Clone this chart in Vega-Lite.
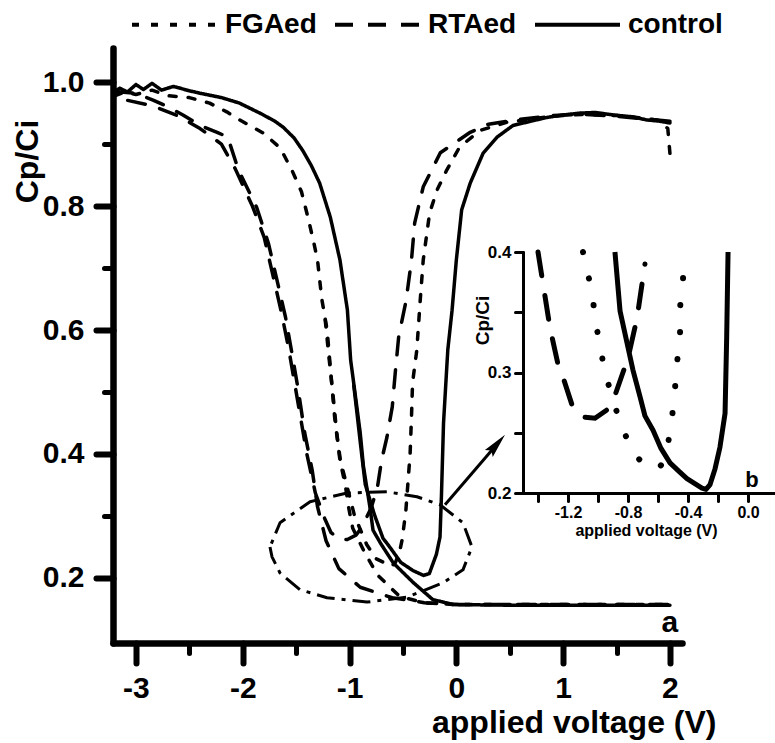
{
  "$schema": "https://vega.github.io/schema/vega-lite/v6.json",
  "width": 569,
  "height": 595,
  "autosize": {"type": "none"},
  "padding": {"left": 113, "top": 48, "right": 93, "bottom": 100},
  "background": "white",
  "config": {
    "font": "Liberation Sans",
    "view": {"stroke": null},
    "axis": {"grid": false, "domainColor": "black", "tickColor": "black", "labelColor": "black", "titleColor": "black", "labelFontWeight": "bold", "titleFontWeight": "bold", "tickCap": "round", "domainCap": "round"},
    "text": {"font": "Liberation Sans"}
  },
  "datasets": {
    "main": [
      {"s":"control","w":"d","V":-3.2,"C":0.985},{"s":"control","w":"d","V":-3.15,"C":0.99},{"s":"control","w":"d","V":-3.08,"C":0.984},{"s":"control","w":"d","V":-3.0,"C":0.996},{"s":"control","w":"d","V":-2.93,"C":0.988},{"s":"control","w":"d","V":-2.85,"C":0.998},{"s":"control","w":"d","V":-2.76,"C":0.987},{"s":"control","w":"d","V":-2.65,"C":0.993},{"s":"control","w":"d","V":-2.5,"C":0.986},{"s":"control","w":"d","V":-2.4,"C":0.982},{"s":"control","w":"d","V":-2.2,"C":0.975},{"s":"control","w":"d","V":-2.03,"C":0.966},{"s":"control","w":"d","V":-1.84,"C":0.95},{"s":"control","w":"d","V":-1.7,"C":0.937},{"s":"control","w":"d","V":-1.62,"C":0.927},{"s":"control","w":"d","V":-1.52,"C":0.91},{"s":"control","w":"d","V":-1.44,"C":0.89},{"s":"control","w":"d","V":-1.36,"C":0.866},{"s":"control","w":"d","V":-1.28,"C":0.837},{"s":"control","w":"d","V":-1.18,"C":0.782},{"s":"control","w":"d","V":-1.09,"C":0.713},{"s":"control","w":"d","V":-1.02,"C":0.632},{"s":"control","w":"d","V":-0.99,"C":0.552},{"s":"control","w":"d","V":-0.95,"C":0.5},{"s":"control","w":"d","V":-0.9,"C":0.434},{"s":"control","w":"d","V":-0.87,"C":0.38},{"s":"control","w":"d","V":-0.81,"C":0.315},{"s":"control","w":"d","V":-0.78,"C":0.277},{"s":"control","w":"d","V":-0.71,"C":0.256},{"s":"control","w":"d","V":-0.59,"C":0.224},{"s":"control","w":"d","V":-0.4,"C":0.192},{"s":"control","w":"d","V":-0.22,"C":0.165},{"s":"control","w":"d","V":-0.03,"C":0.157},{"s":"control","w":"d","V":0.5,"C":0.156},{"s":"control","w":"d","V":1.0,"C":0.156},{"s":"control","w":"d","V":1.5,"C":0.156},{"s":"control","w":"d","V":2.0,"C":0.156},
      {"s":"control","w":"u","V":2.0,"C":0.934},{"s":"control","w":"u","V":1.9,"C":0.937},{"s":"control","w":"u","V":1.78,"C":0.939},{"s":"control","w":"u","V":1.65,"C":0.944},{"s":"control","w":"u","V":1.47,"C":0.947},{"s":"control","w":"u","V":1.3,"C":0.951},{"s":"control","w":"u","V":1.16,"C":0.95},{"s":"control","w":"u","V":1.0,"C":0.947},{"s":"control","w":"u","V":0.85,"C":0.943},{"s":"control","w":"u","V":0.7,"C":0.937},{"s":"control","w":"u","V":0.53,"C":0.93},{"s":"control","w":"u","V":0.38,"C":0.911},{"s":"control","w":"u","V":0.25,"C":0.885},{"s":"control","w":"u","V":0.13,"C":0.837},{"s":"control","w":"u","V":0.05,"C":0.794},{"s":"control","w":"u","V":0.0,"C":0.713},{"s":"control","w":"u","V":-0.04,"C":0.632},{"s":"control","w":"u","V":-0.08,"C":0.568},{"s":"control","w":"u","V":-0.12,"C":0.45},{"s":"control","w":"u","V":-0.14,"C":0.33},{"s":"control","w":"u","V":-0.153,"C":0.266},{"s":"control","w":"u","V":-0.187,"C":0.238},{"s":"control","w":"u","V":-0.253,"C":0.207},{"s":"control","w":"u","V":-0.307,"C":0.204},{"s":"control","w":"u","V":-0.407,"C":0.212},{"s":"control","w":"u","V":-0.52,"C":0.225},{"s":"control","w":"u","V":-0.633,"C":0.252},{"s":"control","w":"u","V":-0.687,"C":0.264},{"s":"control","w":"u","V":-0.767,"C":0.302},{"s":"control","w":"u","V":-0.853,"C":0.351},{"s":"control","w":"u","V":-0.887,"C":0.4},{"s":"control","w":"u","V":-0.92,"C":0.45},{"s":"control","w":"u","V":-0.96,"C":0.51},
      {"s":"FGAed","w":"d","V":-3.2,"C":0.978},{"s":"FGAed","w":"d","V":-3.1,"C":0.984},{"s":"FGAed","w":"d","V":-3.0,"C":0.98},{"s":"FGAed","w":"d","V":-2.85,"C":0.987},{"s":"FGAed","w":"d","V":-2.7,"C":0.978},{"s":"FGAed","w":"d","V":-2.5,"C":0.975},{"s":"FGAed","w":"d","V":-2.31,"C":0.966},{"s":"FGAed","w":"d","V":-2.15,"C":0.952},{"s":"FGAed","w":"d","V":-2.03,"C":0.939},{"s":"FGAed","w":"d","V":-1.81,"C":0.918},{"s":"FGAed","w":"d","V":-1.65,"C":0.894},{"s":"FGAed","w":"d","V":-1.54,"C":0.858},{"s":"FGAed","w":"d","V":-1.45,"C":0.823},{"s":"FGAed","w":"d","V":-1.39,"C":0.782},{"s":"FGAed","w":"d","V":-1.34,"C":0.745},{"s":"FGAed","w":"d","V":-1.3,"C":0.713},{"s":"FGAed","w":"d","V":-1.26,"C":0.65},{"s":"FGAed","w":"d","V":-1.21,"C":0.6},{"s":"FGAed","w":"d","V":-1.18,"C":0.54},{"s":"FGAed","w":"d","V":-1.14,"C":0.46},{"s":"FGAed","w":"d","V":-1.09,"C":0.39},{"s":"FGAed","w":"d","V":-1.04,"C":0.35},{"s":"FGAed","w":"d","V":-1.01,"C":0.315},{"s":"FGAed","w":"d","V":-0.97,"C":0.28},{"s":"FGAed","w":"d","V":-0.87,"C":0.245},{"s":"FGAed","w":"d","V":-0.74,"C":0.205},{"s":"FGAed","w":"d","V":-0.53,"C":0.17},{"s":"FGAed","w":"d","V":-0.3,"C":0.16},{"s":"FGAed","w":"d","V":0.0,"C":0.157},{"s":"FGAed","w":"d","V":1.0,"C":0.157},{"s":"FGAed","w":"d","V":2.0,"C":0.157},
      {"s":"FGAed","w":"u","V":2.0,"C":0.885},{"s":"FGAed","w":"u","V":1.98,"C":0.925},{"s":"FGAed","w":"u","V":1.9,"C":0.938},{"s":"FGAed","w":"u","V":1.75,"C":0.942},{"s":"FGAed","w":"u","V":1.5,"C":0.946},{"s":"FGAed","w":"u","V":1.2,"C":0.948},{"s":"FGAed","w":"u","V":0.9,"C":0.945},{"s":"FGAed","w":"u","V":0.6,"C":0.938},{"s":"FGAed","w":"u","V":0.47,"C":0.935},{"s":"FGAed","w":"u","V":0.22,"C":0.922},{"s":"FGAed","w":"u","V":0.03,"C":0.895},{"s":"FGAed","w":"u","V":-0.09,"C":0.858},{"s":"FGAed","w":"u","V":-0.18,"C":0.826},{"s":"FGAed","w":"u","V":-0.25,"C":0.789},{"s":"FGAed","w":"u","V":-0.31,"C":0.713},{"s":"FGAed","w":"u","V":-0.34,"C":0.644},{"s":"FGAed","w":"u","V":-0.37,"C":0.568},{"s":"FGAed","w":"u","V":-0.41,"C":0.515},{"s":"FGAed","w":"u","V":-0.42,"C":0.46},{"s":"FGAed","w":"u","V":-0.433,"C":0.4},{"s":"FGAed","w":"u","V":-0.453,"C":0.354},{"s":"FGAed","w":"u","V":-0.473,"C":0.308},{"s":"FGAed","w":"u","V":-0.507,"C":0.262},{"s":"FGAed","w":"u","V":-0.533,"C":0.241},{"s":"FGAed","w":"u","V":-0.57,"C":0.225},{"s":"FGAed","w":"u","V":-0.607,"C":0.219},{"s":"FGAed","w":"u","V":-0.753,"C":0.231},{"s":"FGAed","w":"u","V":-0.84,"C":0.254},{"s":"FGAed","w":"u","V":-0.953,"C":0.3},{"s":"FGAed","w":"u","V":-1.02,"C":0.345},{"s":"FGAed","w":"u","V":-1.087,"C":0.391},{"s":"FGAed","w":"u","V":-1.12,"C":0.434},{"s":"FGAed","w":"u","V":-1.15,"C":0.487},{"s":"FGAed","w":"u","V":-1.2,"C":0.568},{"s":"FGAed","w":"u","V":-1.23,"C":0.62},
      {"s":"RTAed","w":"d","V":-3.2,"C":0.985},{"s":"RTAed","w":"d","V":-3.0,"C":0.982},{"s":"RTAed","w":"d","V":-2.84,"C":0.971},{"s":"RTAed","w":"d","V":-2.7,"C":0.96},{"s":"RTAed","w":"d","V":-2.56,"C":0.947},{"s":"RTAed","w":"d","V":-2.4,"C":0.93},{"s":"RTAed","w":"d","V":-2.24,"C":0.919},{"s":"RTAed","w":"d","V":-2.14,"C":0.911},{"s":"RTAed","w":"d","V":-2.04,"C":0.858},{"s":"RTAed","w":"d","V":-1.87,"C":0.798},{"s":"RTAed","w":"d","V":-1.76,"C":0.74},{"s":"RTAed","w":"d","V":-1.68,"C":0.681},{"s":"RTAed","w":"d","V":-1.6,"C":0.621},{"s":"RTAed","w":"d","V":-1.54,"C":0.563},{"s":"RTAed","w":"d","V":-1.48,"C":0.503},{"s":"RTAed","w":"d","V":-1.42,"C":0.434},{"s":"RTAed","w":"d","V":-1.35,"C":0.374},{"s":"RTAed","w":"d","V":-1.3,"C":0.315},{"s":"RTAed","w":"d","V":-1.22,"C":0.26},{"s":"RTAed","w":"d","V":-1.1,"C":0.215},{"s":"RTAed","w":"d","V":-0.9,"C":0.185},{"s":"RTAed","w":"d","V":-0.6,"C":0.168},{"s":"RTAed","w":"d","V":-0.3,"C":0.16},{"s":"RTAed","w":"d","V":0.0,"C":0.157},{"s":"RTAed","w":"d","V":1.0,"C":0.157},{"s":"RTAed","w":"d","V":2.0,"C":0.157},
      {"s":"RTAed","w":"u","V":2.0,"C":0.937},{"s":"RTAed","w":"u","V":1.8,"C":0.94},{"s":"RTAed","w":"u","V":1.5,"C":0.945},{"s":"RTAed","w":"u","V":1.2,"C":0.948},{"s":"RTAed","w":"u","V":0.9,"C":0.946},{"s":"RTAed","w":"u","V":0.6,"C":0.94},{"s":"RTAed","w":"u","V":0.3,"C":0.932},{"s":"RTAed","w":"u","V":0.13,"C":0.919},{"s":"RTAed","w":"u","V":-0.15,"C":0.886},{"s":"RTAed","w":"u","V":-0.31,"C":0.831},{"s":"RTAed","w":"u","V":-0.39,"C":0.773},{"s":"RTAed","w":"u","V":-0.42,"C":0.713},{"s":"RTAed","w":"u","V":-0.47,"C":0.648},{"s":"RTAed","w":"u","V":-0.54,"C":0.589},{"s":"RTAed","w":"u","V":-0.57,"C":0.535},{"s":"RTAed","w":"u","V":-0.6,"C":0.476},{"s":"RTAed","w":"u","V":-0.65,"C":0.427},{"s":"RTAed","w":"u","V":-0.7,"C":0.39},{"s":"RTAed","w":"u","V":-0.74,"C":0.345},{"s":"RTAed","w":"u","V":-0.8,"C":0.312},{"s":"RTAed","w":"u","V":-0.887,"C":0.281},{"s":"RTAed","w":"u","V":-0.94,"C":0.269},{"s":"RTAed","w":"u","V":-1.02,"C":0.262},{"s":"RTAed","w":"u","V":-1.1,"C":0.263},{"s":"RTAed","w":"u","V":-1.173,"C":0.273},{"s":"RTAed","w":"u","V":-1.233,"C":0.296},{"s":"RTAed","w":"u","V":-1.32,"C":0.337},{"s":"RTAed","w":"u","V":-1.367,"C":0.374},{"s":"RTAed","w":"u","V":-1.4,"C":0.4},{"s":"RTAed","w":"u","V":-1.45,"C":0.45},{"s":"RTAed","w":"u","V":-1.51,"C":0.51},{"s":"RTAed","w":"u","V":-1.57,"C":0.57},{"s":"RTAed","w":"u","V":-1.64,"C":0.63},{"s":"RTAed","w":"u","V":-1.72,"C":0.69},{"s":"RTAed","w":"u","V":-1.8,"C":0.75},{"s":"RTAed","w":"u","V":-1.91,"C":0.8},{"s":"RTAed","w":"u","V":-2.07,"C":0.86},{"s":"RTAed","w":"u","V":-2.2,"C":0.9},{"s":"RTAed","w":"u","V":-2.4,"C":0.925},{"s":"RTAed","w":"u","V":-2.6,"C":0.945},{"s":"RTAed","w":"u","V":-2.85,"C":0.962},{"s":"RTAed","w":"u","V":-3.2,"C":0.975}
    ],
    "inset": [
      {"s":"control","V":-0.887,"C":0.4},{"s":"control","V":-0.853,"C":0.351},{"s":"control","V":-0.767,"C":0.302},{"s":"control","V":-0.72,"C":0.28},{"s":"control","V":-0.687,"C":0.264},{"s":"control","V":-0.633,"C":0.252},{"s":"control","V":-0.58,"C":0.237},{"s":"control","V":-0.52,"C":0.225},{"s":"control","V":-0.46,"C":0.218},{"s":"control","V":-0.407,"C":0.212},{"s":"control","V":-0.307,"C":0.204},{"s":"control","V":-0.28,"C":0.203},{"s":"control","V":-0.253,"C":0.207},{"s":"control","V":-0.22,"C":0.22},{"s":"control","V":-0.187,"C":0.238},{"s":"control","V":-0.153,"C":0.266},{"s":"control","V":-0.142,"C":0.33},{"s":"control","V":-0.133,"C":0.4},
      {"s":"FGAed","V":-1.1,"C":0.4},{"s":"FGAed","V":-1.087,"C":0.391},{"s":"FGAed","V":-1.04,"C":0.368},{"s":"FGAed","V":-1.02,"C":0.345},{"s":"FGAed","V":-0.987,"C":0.322},{"s":"FGAed","V":-0.953,"C":0.3},{"s":"FGAed","V":-0.9,"C":0.277},{"s":"FGAed","V":-0.84,"C":0.254},{"s":"FGAed","V":-0.753,"C":0.231},{"s":"FGAed","V":-0.68,"C":0.223},{"s":"FGAed","V":-0.607,"C":0.219},{"s":"FGAed","V":-0.56,"C":0.226},{"s":"FGAed","V":-0.533,"C":0.241},{"s":"FGAed","V":-0.507,"C":0.262},{"s":"FGAed","V":-0.487,"C":0.286},{"s":"FGAed","V":-0.473,"C":0.308},{"s":"FGAed","V":-0.453,"C":0.33},{"s":"FGAed","V":-0.453,"C":0.354},{"s":"FGAed","V":-0.433,"C":0.378},{"s":"FGAed","V":-0.433,"C":0.4},
      {"s":"RTAed","V":-1.4,"C":0.4},{"s":"RTAed","V":-1.367,"C":0.374},{"s":"RTAed","V":-1.32,"C":0.337},{"s":"RTAed","V":-1.267,"C":0.307},{"s":"RTAed","V":-1.233,"C":0.296},{"s":"RTAed","V":-1.173,"C":0.273},{"s":"RTAed","V":-1.13,"C":0.265},{"s":"RTAed","V":-1.1,"C":0.263},{"s":"RTAed","V":-1.02,"C":0.262},{"s":"RTAed","V":-0.94,"C":0.269},{"s":"RTAed","V":-0.887,"C":0.281},{"s":"RTAed","V":-0.8,"C":0.312},{"s":"RTAed","V":-0.74,"C":0.345},{"s":"RTAed","V":-0.687,"C":0.39}
    ],
    "ellipse": [
      {"V":-1.745,"C":0.25},{"V":-1.726,"C":0.234},{"V":-1.651,"C":0.208},{"V":-1.464,"C":0.181},{"V":-1.211,"C":0.168},{"V":-0.837,"C":0.161},{"V":-0.462,"C":0.169},{"V":-0.125,"C":0.192},{"V":0.062,"C":0.213},{"V":0.146,"C":0.25},{"V":0.062,"C":0.289},{"V":-0.153,"C":0.318},{"V":-0.369,"C":0.331},{"V":-0.649,"C":0.339},{"V":-1.024,"C":0.337},{"V":-1.37,"C":0.323},{"V":-1.651,"C":0.289},{"V":-1.745,"C":0.25}
    ],
    "arrow": [{"V":-0.106,"C":0.318},{"V":0.376,"C":0.415}],
    "head": [{"V":0.376,"C":0.415}],
    "labelA": [{"V":2.0,"C":0.113,"t":"a"}],
    "labelB": [{"V":0.027,"C":0.205,"t":"b"}]
  },
  "layer": [
    {
      "data": {"name": "main"},
      "mark": {"type": "line", "color": "black", "strokeWidth": 3.5, "strokeCap": "round", "strokeJoin": "round"},
      "encoding": {
        "x": {"field": "V", "type": "quantitative", "scale": {"domain": [-3.215, 2.113], "nice": false, "zero": false},
          "axis": {"orient": "bottom", "values": [-3, -2, -1, 0, 1, 2], "labelExpr": "replace(datum.label, '\u2212', '-')", "tickSize": 20, "tickWidth": 6, "domainWidth": 6.5, "labelFontSize": 30, "labelPadding": 10, "title": "applied voltage (V)", "titleFontSize": 32, "titleX": 603, "titleY": 89, "titleAlign": "right", "titleBaseline": "alphabetic"}},
        "y": {"field": "C", "type": "quantitative", "scale": {"domain": [0.095, 1.055], "nice": false, "zero": false},
          "axis": {"orient": "left", "values": [0.2, 0.4, 0.6, 0.8, 1.0], "format": ".1f", "tickSize": 17, "tickWidth": 6, "domainWidth": 6.5, "labelFontSize": 30, "labelPadding": 12, "title": "Cp/Ci", "titleFontSize": 32, "titleX": -76, "titleY": 113, "titleAngle": -90, "titleAlign": "center", "titleBaseline": "alphabetic"}},
        "strokeDash": {"field": "s", "type": "nominal", "scale": {"domain": ["FGAed", "RTAed", "control"], "range": [[7, 12], [18, 15], [1, 0]]},
          "legend": {"orient": "none", "legendX": 17, "legendY": -68, "direction": "horizontal", "title": null, "symbolType": "stroke", "symbolSize": 7225, "symbolStrokeWidth": 4, "symbolStrokeColor": "black", "labelFontSize": 28, "labelFontWeight": "bold", "labelColor": "black", "labelOffset": 6, "columnPadding": 10}},
        "detail": {"field": "w"},
        "order": {"value": null}
      }
    },
    {
      "data": {"name": "ellipse"},
      "mark": {"type": "line", "color": "black", "strokeWidth": 3, "strokeDash": [18, 7, 4, 7], "strokeJoin": "round"},
      "encoding": {
        "x": {"field": "V", "type": "quantitative", "scale": {"domain": [-3.215, 2.113], "nice": false, "zero": false},
          "axis": {"orient": "bottom", "values": [-2.5, -1.5, -0.5, 0.5, 1.5], "labels": false, "domain": false, "tickSize": 10, "tickWidth": 5, "title": null}},
        "y": {"field": "C", "type": "quantitative", "scale": {"domain": [0.095, 1.055], "nice": false, "zero": false},
          "axis": {"orient": "left", "values": [0.3, 0.5, 0.7, 0.9], "labels": false, "domain": false, "tickSize": 9, "tickWidth": 5, "title": null}},
        "order": {"value": null}
      }
    },
    {
      "data": {"name": "arrow"},
      "mark": {"type": "line", "color": "black", "strokeWidth": 3},
      "encoding": {
        "x": {"field": "V", "type": "quantitative", "scale": {"domain": [-3.215, 2.113], "nice": false, "zero": false}, "axis": null},
        "y": {"field": "C", "type": "quantitative", "scale": {"domain": [0.095, 1.055], "nice": false, "zero": false}, "axis": null}
      }
    },
    {
      "data": {"name": "head"},
      "mark": {"type": "point", "shape": "M0,-1L0.4,0.9L0,0.6L-0.4,0.9Z", "size": 676, "angle": 41, "filled": true, "color": "black", "opacity": 1},
      "encoding": {
        "x": {"field": "V", "type": "quantitative", "scale": {"domain": [-3.215, 2.113], "nice": false, "zero": false}, "axis": null},
        "y": {"field": "C", "type": "quantitative", "scale": {"domain": [0.095, 1.055], "nice": false, "zero": false}, "axis": null}
      }
    },
    {
      "data": {"name": "labelA"},
      "mark": {"type": "text", "fontSize": 30, "fontWeight": "bold", "align": "center", "baseline": "alphabetic", "color": "black"},
      "encoding": {
        "x": {"field": "V", "type": "quantitative", "scale": {"domain": [-3.215, 2.113], "nice": false, "zero": false}, "axis": null},
        "y": {"field": "C", "type": "quantitative", "scale": {"domain": [0.095, 1.055], "nice": false, "zero": false}, "axis": null},
        "text": {"field": "t"}
      }
    },
    {
      "data": {"name": "inset"},
      "transform": [{"filter": "datum.s == 'control'"}],
      "mark": {"type": "line", "color": "black", "strokeWidth": 5, "strokeJoin": "round"},
      "encoding": {
        "x": {"field": "V", "type": "quantitative", "scale": {"domain": [-1.5, 0.18], "range": [410, 662], "nice": false, "zero": false},
          "axis": {"orient": "bottom", "offset": -150, "values": [-1.4, -1.2, -1.0, -0.8, -0.6, -0.4, -0.2, 0.0], "labelExpr": "round(datum.value*5) % 2 == 0 ? replace(format(datum.value, '.1f'), '\u2212', '-') : ''", "tickSize": 8, "tickWidth": 3, "domainWidth": 3, "labelFontSize": 16, "labelPadding": 3, "title": "applied voltage (V)", "titleFontSize": 16, "titleX": 533, "titleY": 37, "titleAlign": "center", "titleBaseline": "middle"}},
        "y": {"field": "C", "type": "quantitative", "scale": {"domain": [0.2, 0.4], "range": [445, 204], "nice": false, "zero": false},
          "axis": {"orient": "left", "offset": -410, "values": [0.2, 0.25, 0.3, 0.35, 0.4], "labelExpr": "round(datum.value*20) % 2 == 0 ? format(datum.value, '.1f') : ''", "tickSize": 8, "tickWidth": 3, "domainWidth": 3, "labelFontSize": 17, "labelPadding": 4, "title": "Cp/Ci", "titleFontSize": 19, "titleX": -41, "titleY": 272, "titleAngle": -90, "titleAlign": "center", "titleBaseline": "middle"}},
        "order": {"value": null}
      }
    },
    {
      "data": {"name": "inset"},
      "transform": [{"filter": "datum.s == 'FGAed'"}],
      "mark": {"type": "line", "color": "black", "strokeWidth": 6, "strokeCap": "round", "strokeDash": [0.1, 27]},
      "encoding": {
        "x": {"field": "V", "type": "quantitative", "scale": {"domain": [-1.5, 0.18], "range": [410, 662], "nice": false, "zero": false}, "axis": null},
        "y": {"field": "C", "type": "quantitative", "scale": {"domain": [0.2, 0.4], "range": [445, 204], "nice": false, "zero": false}, "axis": null},
        "order": {"value": null}
      }
    },
    {
      "data": {"name": "inset"},
      "transform": [{"filter": "datum.s == 'RTAed'"}],
      "mark": {"type": "line", "color": "black", "strokeWidth": 5, "strokeCap": "round", "strokeDash": [24, 20]},
      "encoding": {
        "x": {"field": "V", "type": "quantitative", "scale": {"domain": [-1.5, 0.18], "range": [410, 662], "nice": false, "zero": false}, "axis": null},
        "y": {"field": "C", "type": "quantitative", "scale": {"domain": [0.2, 0.4], "range": [445, 204], "nice": false, "zero": false}, "axis": null},
        "order": {"value": null}
      }
    },
    {
      "data": {"name": "labelB"},
      "mark": {"type": "text", "fontSize": 22, "fontWeight": "bold", "align": "center", "baseline": "alphabetic", "color": "black"},
      "encoding": {
        "x": {"field": "V", "type": "quantitative", "scale": {"domain": [-1.5, 0.18], "range": [410, 662], "nice": false, "zero": false}, "axis": null},
        "y": {"field": "C", "type": "quantitative", "scale": {"domain": [0.2, 0.4], "range": [445, 204], "nice": false, "zero": false}, "axis": null},
        "text": {"field": "t"}
      }
    }
  ],
  "resolve": {"scale": {"x": "independent", "y": "independent"}, "axis": {"x": "independent", "y": "independent"}}
}
